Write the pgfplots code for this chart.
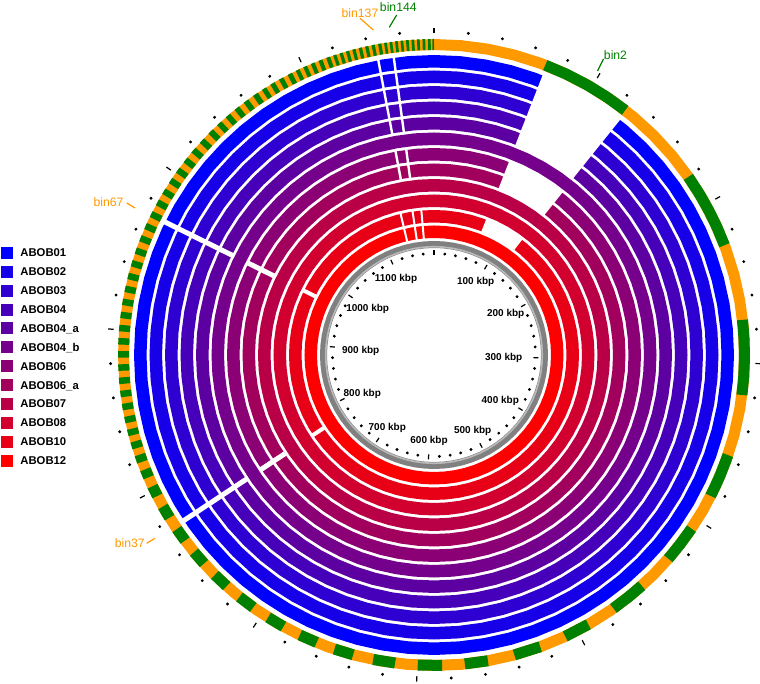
\documentclass[border=0pt]{standalone}
\usepackage{pgfplots}
\pgfplotsset{compat=1.18}
\usepackage{pgfplotstable}
\usepackage{fontspec}
\setmainfont{Liberation Sans}

% ring colours, outer (blue) to inner (red)
\definecolor{c0}{RGB}{0,0,255}
\definecolor{c1}{RGB}{23,0,232}
\definecolor{c2}{RGB}{46,0,209}
\definecolor{c3}{RGB}{70,0,185}
\definecolor{c4}{RGB}{93,0,162}
\definecolor{c5}{RGB}{116,0,139}
\definecolor{c6}{RGB}{139,0,116}
\definecolor{c7}{RGB}{162,0,93}
\definecolor{c8}{RGB}{185,0,70}
\definecolor{c9}{RGB}{209,0,46}
\definecolor{c10}{RGB}{232,0,23}
\definecolor{c11}{RGB}{255,0,0}
\definecolor{binor}{RGB}{255,153,0}
\definecolor{bingr}{RGB}{0,128,0}
\definecolor{ringgray}{RGB}{128,128,128}

% angles in degrees, clockwise from the top
\pgfplotstableread[row sep=\\]{t\\0\\5\\10\\15\\20\\25\\30\\35\\40\\45\\50\\55\\60\\65\\70\\75\\80\\85\\90\\95\\100\\105\\110\\115\\120\\125\\130\\135\\140\\145\\150\\155\\160\\165\\170\\175\\180\\185\\190\\195\\200\\205\\210\\215\\220\\225\\230\\235\\240\\245\\250\\255\\260\\265\\270\\275\\280\\285\\290\\295\\300\\305\\310\\315\\320\\325\\330\\335\\340\\345\\350\\355\\360\\365\\}\fullgrid

% missing block (bin2) in some genomes
\pgfplotstableread[row sep=\\]{t\\21.2\\21.5\\25\\29\\33\\37\\38\\38.3\\}\gapA
\pgfplotstableread[row sep=\\]{t\\21\\21.3\\25\\29\\33\\36.5\\37.1\\37.4\\}\gapB

% thin cuts
\pgfplotstableread[row sep=\\]{a\\236.5\\296.3\\}\cutsBig
\pgfplotstableread[row sep=\\]{a\\349.3\\352.3\\}\cutsTop
\pgfplotstableread[row sep=\\]{a\\346.7\\351.5\\355\\}\cutsIn

% green bins on the outer ring (rest is orange)
\pgfplotstableread[row sep=\\]{
a b\\
21 25.3\\ 25.2 29.6\\ 29.5 33.8\\ 33.7 38\\
55 58.7\\ 58.6 62.3\\ 62.2 65.8\\ 65.7 69.3\\
83.5 87.1\\ 87 90.6\\ 90.5 94\\ 93.9 97.4\\
108.8 113\\ 112.9 117\\ 124 127.6\\ 127.5 131\\ 138 141.4\\ 141.3 144.7\\
150.2 155\\ 160 165\\ 170 174.3\\ 178.5 183\\ 187.2 191.3\\
195.1 198.7\\ 202.2 205.6\\ 209 212.3\\ 215.6 218.8\\ 221.9 224.9\\ 227.8 230.6\\
233.3 235.9\\ 238.4 240.8\\ 243 245\\ 246.8 248.4\\ 249.9 251.3\\ 252.6 253.9\\
255.1 256.3\\ 257.5 258.7\\ 259.9 261.1\\ 262.3 263.5\\ 264.7 265.9\\ 267.1 268.3\\
269.5 270.7\\ 271.9 273.1\\ 274.3 275.5\\ 276.7 277.9\\ 279.1 280.3\\ 281.5 282.7\\
283.9 285.1\\ 286.3 287.5\\ 288.7 289.9\\ 291.1 292.3\\ 293.5 294.7\\ 295.9 297.1\\
298.3 299.5\\ 300.65 301.8\\ 302.95 304.1\\ 305.25 306.4\\ 307.55 308.7\\ 309.85 311\\
312.15 313.3\\ 314.45 315.6\\ 316.65 317.7\\ 318.75 319.8\\ 320.85 321.9\\ 322.95 324\\
325.05 326.1\\ 327 327.9\\ 328.8 329.7\\ 330.6 331.5\\ 332.4 333.3\\ 334.05 334.8\\
335.55 336.3\\ 337.05 337.8\\ 338.55 339.3\\ 340.05 340.8\\ 341.4 342\\ 342.6 343.2\\
343.8 344.4\\ 345 345.6\\ 346.2 346.8\\ 347.4 348\\ 348.6 349.2\\ 349.8 350.4\\
350.9 351.4\\ 351.9 352.4\\ 352.9 353.4\\ 353.9 354.4\\ 354.9 355.4\\ 355.9 356.4\\
356.9 357.4\\ 357.9 358.4\\ 358.9 359.4\\ 359.7 360\\
}\greenbins

% scale ticks, kbp (genome 1180 kbp)
\pgfplotstableread[row sep=\\]{k\\20\\40\\60\\80\\120\\140\\160\\180\\220\\240\\260\\280\\320\\340\\360\\380\\420\\440\\460\\480\\520\\540\\560\\580\\620\\640\\660\\680\\720\\740\\760\\780\\820\\840\\860\\880\\920\\940\\960\\980\\1020\\1040\\1060\\1080\\1120\\1140\\1160\\}\dotkbp
\pgfplotstableread[row sep=\\]{k\\0\\100\\200\\300\\400\\500\\600\\700\\800\\900\\1000\\1100\\}\dashkbp

% arc through the angles of a table, radius #1 (px)
\newcommand\ringarc[3]{\addplot[#2] table[x index=0, y index=0, x expr={434+#1*sin(\thisrow{t})}, y expr={329+#1*cos(\thisrow{t})}] {#3};}
% chords from a to b at radius #1
\newcommand\chords[3]{\addplot[#2, quiver={u={#1*(sin(\thisrow{b})-sin(\thisrow{a}))}, v={#1*(cos(\thisrow{b})-cos(\thisrow{a}))}}] table[x index=0, y index=1, x expr={434+#1*sin(\thisrow{a})}, y expr={329+#1*cos(\thisrow{a})}] {#3};}
% radial strokes from radius #1 to #2 at angles a
\newcommand\radials[4]{\addplot[#3, quiver={u={(#2-#1)*sin(\thisrow{a})}, v={(#2-#1)*cos(\thisrow{a})}}] table[x index=0, y index=0, x expr={434+#1*sin(\thisrow{a})}, y expr={329+#1*cos(\thisrow{a})}] {#4};}

\begin{document}
\begin{tikzpicture}
\begin{axis}[
  scale only axis, width=380pt, height=342pt,
  xmin=0, xmax=760, ymin=0, ymax=684,
  hide axis, clip=false,
]
% outer bin ring
\ringarc{310.5}{binor, line width=5.5pt}{\fullgrid}
\chords{310.5}{bingr, line width=5.5pt}{\greenbins}

% genome rings
\ringarc{293.75}{c0, line width=6.25pt}{\fullgrid}
\ringarc{278.25}{c1, line width=6.25pt}{\fullgrid}
\ringarc{262.75}{c2, line width=6.25pt}{\fullgrid}
\ringarc{247.25}{c3, line width=6.25pt}{\fullgrid}
\ringarc{231.75}{c4, line width=6.25pt}{\fullgrid}
\ringarc{216.25}{c5, line width=6.25pt}{\fullgrid}
\ringarc{200.75}{c6, line width=6.25pt}{\fullgrid}
\ringarc{185.25}{c7, line width=6.25pt}{\fullgrid}
\ringarc{169.75}{c8, line width=6.25pt}{\fullgrid}
\ringarc{154.25}{c9, line width=6.25pt}{\fullgrid}
\ringarc{138.75}{c10, line width=6.25pt}{\fullgrid}
\ringarc{123.25}{c11, line width=6.25pt}{\fullgrid}

% missing regions
\ringarc{262.75}{white, line width=38pt}{\gapA}
\ringarc{193}{white, line width=14.75pt}{\gapA}
\ringarc{138.75}{white, line width=6.75pt}{\gapB}
\radials{224.5}{301}{white, line width=2.5pt}{\cutsBig}
\radials{178.5}{207.5}{white, line width=2.5pt}{\cutsBig}
\radials{132}{145.5}{white, line width=2pt}{\cutsBig}
\radials{224.5}{301}{white, line width=1.2pt}{\cutsTop}
\radials{178.5}{207.5}{white, line width=1.2pt}{\cutsTop}
\radials{116.5}{145.5}{white, line width=1pt}{\cutsIn}

% backbone circle
\ringarc{110.5}{ringgray, line width=3.5pt}{\fullgrid}
\ringarc{108.3}{gray!55, line width=0.8pt}{\fullgrid}

% scale ticks
\addplot[only marks, mark=*, mark size=0.5pt, black] table[x index=0, y index=0, x expr={434+101.5*sin(\thisrow{k}*0.3050847)}, y expr={329+101.5*cos(\thisrow{k}*0.3050847)}] {\dotkbp};
\addplot[black, line width=0.6pt, quiver={u={5*sin(\thisrow{k}*0.3050847)}, v={5*cos(\thisrow{k}*0.3050847)}}] table[x index=0, y index=0, x expr={434+99.5*sin(\thisrow{k}*0.3050847)}, y expr={329+99.5*cos(\thisrow{k}*0.3050847)}] {\dashkbp};
\addplot[only marks, mark=*, mark size=0.5pt, black] table[x index=0, y index=0, x expr={434+323.5*sin(\thisrow{k}*0.3050847)}, y expr={329+323.5*cos(\thisrow{k}*0.3050847)}] {\dotkbp};
\addplot[black, line width=0.6pt, quiver={u={5.5*sin(\thisrow{k}*0.3050847)}, v={5.5*cos(\thisrow{k}*0.3050847)}}] table[x index=0, y index=0, x expr={434+321.5*sin(\thisrow{k}*0.3050847)}, y expr={329+321.5*cos(\thisrow{k}*0.3050847)}] {\dashkbp};

% scale labels
\begin{scope}[every node/.style={font=\fontsize{5}{6}\selectfont\bfseries, inner sep=0pt}]
\node at (axis cs:475.7,402.3) {100 kbp};
\node at (axis cs:505.7,370.3) {200 kbp};
\node at (axis cs:503.7,326.3) {300 kbp};
\node at (axis cs:500.3,283.3) {400 kbp};
\node at (axis cs:472.7,253.3) {500 kbp};
\node at (axis cs:429,243) {600 kbp};
\node at (axis cs:387.3,256.3) {700 kbp};
\node at (axis cs:362.3,289.7) {800 kbp};
\node at (axis cs:360.7,333.3) {900 kbp};
\node at (axis cs:367.7,375.3) {1000 kbp};
\node at (axis cs:396,404.7) {1100 kbp};
\end{scope}

% bin labels
\addplot[binor, line width=0.6pt] coordinates {(360,665.7) (373.3,654)};
\addplot[bingr, line width=0.6pt] coordinates {(396.7,669) (389.3,656.7)};
\addplot[bingr, line width=0.6pt] coordinates {(603.5,625) (597.5,613)};
\addplot[binor, line width=0.6pt] coordinates {(126.7,481) (135,476)};
\addplot[binor, line width=0.6pt] coordinates {(146.7,140.7) (155,145.7)};
\begin{scope}[every node/.style={font=\fontsize{6.1}{7}\selectfont, inner sep=0pt}]
\node[binor] at (axis cs:360,671.3) {bin137};
\node[bingr] at (axis cs:398.3,677.3) {bin144};
\node[bingr] at (axis cs:615.5,629) {bin2};
\node[binor] at (axis cs:108.5,482.3) {bin67};
\node[binor] at (axis cs:129.7,140.7) {bin37};
\end{scope}

% legend
\addplot[only marks, mark=square*, mark size=2.75pt, c0] coordinates {(7.2,431.2)};
\addplot[only marks, mark=square*, mark size=2.75pt, c1] coordinates {(7.2,412.3)};
\addplot[only marks, mark=square*, mark size=2.75pt, c2] coordinates {(7.2,393.4)};
\addplot[only marks, mark=square*, mark size=2.75pt, c3] coordinates {(7.2,374.5)};
\addplot[only marks, mark=square*, mark size=2.75pt, c4] coordinates {(7.2,355.6)};
\addplot[only marks, mark=square*, mark size=2.75pt, c5] coordinates {(7.2,336.7)};
\addplot[only marks, mark=square*, mark size=2.75pt, c6] coordinates {(7.2,317.8)};
\addplot[only marks, mark=square*, mark size=2.75pt, c7] coordinates {(7.2,298.9)};
\addplot[only marks, mark=square*, mark size=2.75pt, c8] coordinates {(7.2,280.0)};
\addplot[only marks, mark=square*, mark size=2.75pt, c9] coordinates {(7.2,261.1)};
\addplot[only marks, mark=square*, mark size=2.75pt, c10] coordinates {(7.2,242.2)};
\addplot[only marks, mark=square*, mark size=2.75pt, c11] coordinates {(7.2,223.3)};
\begin{scope}[every node/.style={font=\fontsize{5.65}{6.5}\selectfont\bfseries, inner sep=0pt, anchor=base west}]
\node at (axis cs:20,427.2) {ABOB01};
\node at (axis cs:20,408.3) {ABOB02};
\node at (axis cs:20,389.4) {ABOB03};
\node at (axis cs:20,370.5) {ABOB04};
\node at (axis cs:20,351.6) {ABOB04\_a};
\node at (axis cs:20,332.7) {ABOB04\_b};
\node at (axis cs:20,313.8) {ABOB06};
\node at (axis cs:20,294.9) {ABOB06\_a};
\node at (axis cs:20,276.0) {ABOB07};
\node at (axis cs:20,257.1) {ABOB08};
\node at (axis cs:20,238.2) {ABOB10};
\node at (axis cs:20,219.3) {ABOB12};
\end{scope}
\end{axis}
\pgfresetboundingbox
\useasboundingbox (current axis.south west) rectangle (current axis.north east);
\end{tikzpicture}
\end{document}
